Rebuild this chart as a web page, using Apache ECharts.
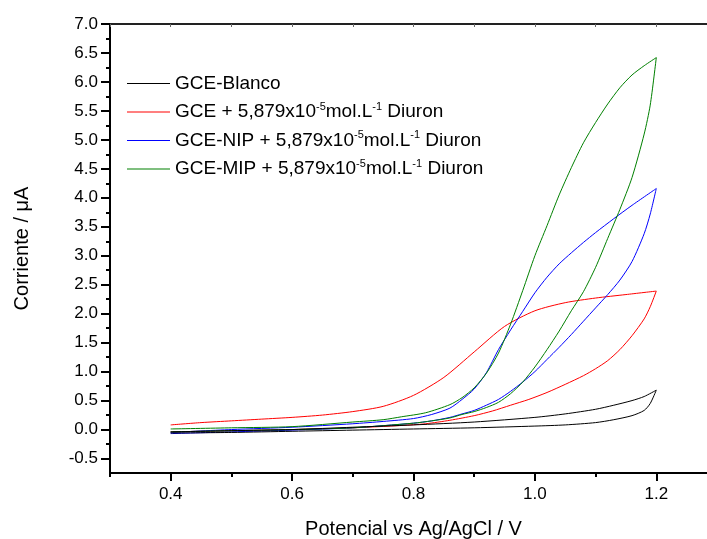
<!DOCTYPE html>
<html>
<head>
<meta charset="utf-8">
<script src="https://cdn.jsdelivr.net/npm/echarts@6/dist/echarts.min.js"></script>
<style>
html,body{margin:0;padding:0;background:#fff;}
#chart{width:707px;height:539px;}
</style>
</head>
<body>
<div id="chart"></div>
<script>
// ---- data (potential in V, current in µA) ----
const seriesNames = [
  'GCE-Blanco',
  'GCE + 5,879x10-5mol.L-1 Diuron',
  'GCE-NIP + 5,879x10-5mol.L-1 Diuron',
  'GCE-MIP + 5,879x10-5mol.L-1 Diuron'
];
const seriesColors = ['#000000', '#ff0000', '#0000ff', '#008000'];

const blancoV = [0.40,0.50,0.60,0.70,0.80,0.90,1.00,1.05,1.10,1.13,1.16,1.18,1.20,
                 1.19,1.18,1.16,1.13,1.10,1.05,1.00,0.90,0.80,0.70,0.60,0.50,0.40];
const blancoI = [-0.04,-0.02,0.00,0.04,0.08,0.13,0.21,0.27,0.35,0.42,0.50,0.57,0.68,
                 0.45,0.33,0.24,0.17,0.12,0.08,0.06,0.03,0.01,-0.01,-0.03,-0.05,-0.06];

const gceV = [0.40,0.45,0.50,0.55,0.60,0.65,0.70,0.75,0.80,0.85,0.90,0.95,1.00,1.05,1.10,1.15,1.20,
              1.19,1.18,1.16,1.14,1.12,1.10,1.08,1.05,1.02,0.99,0.96,0.93,0.90,0.86,0.82,0.78,0.70,0.60,0.50,0.40];
const gceI = [0.08,0.12,0.15,0.18,0.21,0.25,0.31,0.40,0.59,0.90,1.34,1.78,2.05,2.19,2.27,2.33,2.39,
              2.12,1.91,1.62,1.38,1.19,1.05,0.93,0.78,0.64,0.52,0.42,0.32,0.24,0.16,0.10,0.07,0.03,0.00,-0.02,-0.04];

const nipV = [0.40,0.50,0.60,0.70,0.75,0.80,0.83,0.86,0.88,0.90,0.92,0.94,0.96,0.98,1.00,1.02,1.04,1.06,1.08,1.10,1.13,1.16,1.20,
              1.19,1.18,1.16,1.14,1.12,1.10,1.08,1.06,1.04,1.02,1.00,0.98,0.96,0.94,0.92,0.90,0.88,0.86,0.83,0.80,0.70,0.60,0.50,0.40];
const nipI = [-0.05,0.00,0.04,0.10,0.14,0.19,0.26,0.37,0.52,0.70,0.98,1.38,1.72,2.04,2.36,2.63,2.86,3.05,3.23,3.40,3.64,3.87,4.16,
              3.72,3.38,2.90,2.58,2.33,2.10,1.87,1.64,1.42,1.21,1.00,0.82,0.66,0.52,0.42,0.33,0.27,0.21,0.15,0.11,0.03,-0.01,-0.04,-0.07];

const mipV = [0.40,0.50,0.60,0.70,0.75,0.78,0.82,0.86,0.88,0.90,0.92,0.94,0.96,0.98,1.00,1.02,1.04,1.06,1.08,1.10,1.12,1.14,1.16,1.18,1.20,
              1.19,1.18,1.16,1.14,1.12,1.10,1.08,1.06,1.04,1.02,1.00,0.98,0.96,0.94,0.92,0.90,0.88,0.86,0.83,0.80,0.70,0.60,0.50,0.40];
const mipI = [0.01,0.03,0.05,0.13,0.17,0.22,0.29,0.43,0.55,0.72,0.97,1.32,1.82,2.40,3.00,3.52,4.05,4.52,4.95,5.30,5.62,5.90,6.12,6.28,6.42,
              5.60,5.10,4.35,3.80,3.30,2.80,2.38,2.05,1.70,1.38,1.08,0.82,0.62,0.47,0.38,0.31,0.26,0.20,0.15,0.11,0.03,0.00,-0.02,-0.04];

// ---- axis ticks ----
const xMajorTicks = [0.4, 0.6, 0.8, 1.0, 1.2];
const xMinorTicks = [0.3, 0.5, 0.7, 0.9, 1.1];
const yMajorTicks = [-0.5,0.0,0.5,1.0,1.5,2.0,2.5,3.0,3.5,4.0,4.5,5.0,5.5,6.0,6.5,7.0];
const yMinorTicks = [-0.25,0.25,0.75,1.25,1.75,2.25,2.75,3.25,3.75,4.25,4.75,5.25,5.75,6.25,6.75];

const xName = 'Potencial vs Ag/AgCl / V';
const yName = 'Corriente / \u03bcA';

function zip(v, i) { return v.map((x, k) => [x, i[k]]); }
const allData = [zip(blancoV, blancoI), zip(gceV, gceI), zip(nipV, nipI), zip(mipV, mipI)];

const FONT = '"Liberation Sans", Arial, sans-serif';
const X_MIN = 0.3, X_MAX = 1.3, Y_MIN = -0.75, Y_MAX = 7.0;

const chart = echarts.init(document.getElementById('chart'), null, {renderer: 'canvas'});

function legendFmt(name) {
  if (name.indexOf('x10-5') < 0) return '{n|' + name + '}';
  const parts = name.split('x10-5mol.L-1');
  return '{n|' + parts[0] + 'x10}{s|-5}{n|mol.L}{s|-1}{n|' + parts[1] + '}';
}

const axisLineStyle = {color: '#000', width: 2};

chart.setOption({
  animation: false,
  backgroundColor: '#fff',
  grid: {left: 110, top: 24, width: 607, height: 449, containLabel: false, outerBoundsMode: 'none'},
  legend: {
    orient: 'vertical',
    left: 127,
    top: 74,
    padding: 0,
    icon: 'rect',
    itemWidth: 43,
    itemHeight: 1,
    itemGap: 8,
    data: seriesNames.map((n, k) => ({name: n, icon: 'rect', itemStyle: {color: seriesColors[k], borderWidth: 0}})),
    formatter: legendFmt,
    textStyle: {
      fontFamily: FONT,
      fontSize: 19,
      color: '#000',
      rich: {
        n: {fontFamily: FONT, fontSize: 19, color: '#000', lineHeight: 22},
        s: {fontFamily: FONT, fontSize: 11, color: '#000', verticalAlign: 'top', lineHeight: 22, padding: [0, 0, 8, 0]}
      }
    }
  },
  xAxis: [
    {
      type: 'value', position: 'bottom', min: X_MIN, max: X_MAX,
      name: xName, nameLocation: 'middle', nameGap: 46,
      nameTextStyle: {fontFamily: FONT, fontSize: 20, color: '#000'},
      axisLine: {show: true, onZero: false, lineStyle: axisLineStyle},
      axisTick: {show: true, inside: false, length: 8, customValues: xMajorTicks, lineStyle: {color: '#000', width: 2}},
      axisLabel: {show: true, margin: 13, customValues: xMajorTicks, fontFamily: FONT, fontSize: 17, color: '#000',
                  formatter: v => v.toFixed(1)},
      splitLine: {show: false}
    },
    {
      type: 'value', position: 'bottom', min: X_MIN, max: X_MAX,
      axisLine: {show: false, onZero: false},
      axisTick: {show: true, inside: false, length: 4, customValues: xMinorTicks, lineStyle: {color: '#000', width: 2}},
      axisLabel: {show: false},
      splitLine: {show: false}
    },
    {
      type: 'value', position: 'top', min: X_MIN, max: X_MAX,
      axisLine: {show: true, onZero: false, lineStyle: {color: '#222', width: 2}},
      axisTick: {show: true, inside: true, length: 3, customValues: xMajorTicks.concat(xMinorTicks), lineStyle: {color: '#666', width: 1}},
      axisLabel: {show: false},
      splitLine: {show: false}
    }
  ],
  yAxis: [
    {
      type: 'value', position: 'left', min: Y_MIN, max: Y_MAX,
      name: yName, nameLocation: 'middle', nameGap: 78, nameRotate: 90,
      nameTextStyle: {fontFamily: FONT, fontSize: 20, color: '#000'},
      axisLine: {show: true, onZero: false, lineStyle: axisLineStyle},
      axisTick: {show: true, inside: false, length: 9, customValues: yMajorTicks, lineStyle: {color: '#000', width: 2}},
      axisLabel: {show: true, margin: 12, customValues: yMajorTicks, fontFamily: FONT, fontSize: 17, color: '#000',
                  formatter: v => v.toFixed(1)},
      splitLine: {show: false}
    },
    {
      type: 'value', position: 'left', min: Y_MIN, max: Y_MAX,
      axisLine: {show: false, onZero: false},
      axisTick: {show: true, inside: false, length: 4, customValues: yMinorTicks, lineStyle: {color: '#000', width: 2}},
      axisLabel: {show: false},
      splitLine: {show: false}
    }
  ],
  series: seriesNames.map((n, k) => ({
    name: n,
    type: 'line',
    xAxisIndex: 0,
    yAxisIndex: 0,
    data: allData[k],
    symbol: 'none',
    showSymbol: false,
    smooth: 0.25,
    clip: true,
    lineStyle: {color: seriesColors[k], width: 1},
    itemStyle: {color: seriesColors[k]},
    z: 2 + (k === 0 ? 3 : 0)
  }))
});
</script>
</body>
</html>
